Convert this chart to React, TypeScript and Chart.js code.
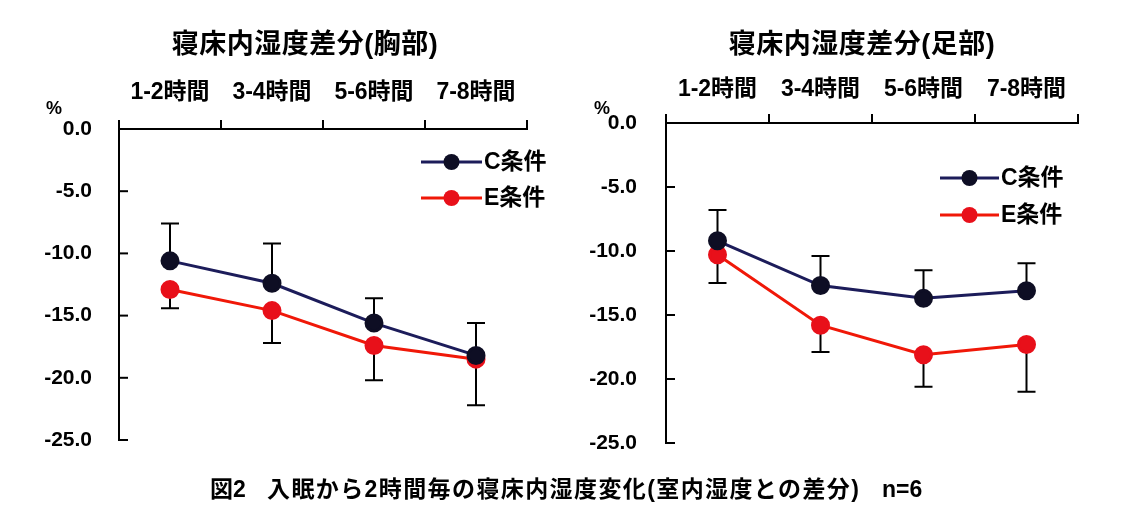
import React, { useEffect, useRef } from "react";
import { Chart, registerables } from "chart.js";
Chart.register(...registerables);

const categories = ["1-2時間", "3-4時間", "5-6時間", "7-8時間"];
const yTickStep = 5;
const yMin = -25;
const yMax = 0;

const chestC = [-10.6, -12.4, -15.6, -18.2];
const chestCErr = [3.0, 3.2, 2.0, 2.6];
const chestE = [-12.9, -14.6, -17.4, -18.5];
const chestEErr = [1.5, 2.6, 2.8, 3.7];

const footC = [-9.2, -12.7, -13.7, -13.1];
const footCErr = [2.4, 2.3, 2.2, 2.15];
const footE = [-10.3, -15.8, -18.1, -17.3];
const footEErr = [2.2, 2.1, 2.5, 3.7];

const seriesNames = ["C条件", "E条件"];
const titles = ["寝床内湿度差分(胸部)", "寝床内湿度差分(足部)"];
const captionHead = "図2";
const captionBody = "入眠から2時間毎の寝床内湿度変化(室内湿度との差分)";
const captionTail = "n=6";

const FONT = '"Liberation Sans", "Noto Sans CJK JP", sans-serif';
const C_LINE = "#1c1c5a";
const C_POINT = "#0e0e24";
const E_LINE = "#f01808";
const E_POINT = "#e8101a";
const H = 505;

type PanelProps = {
  left: number;
  width: number;
  area: { l: number; t: number; r: number; b: number };
  c: number[];
  cErr: number[];
  e: number[];
  eErr: number[];
  legend: { x1: number; x2: number; yC: number; yE: number };
  xPad: number;
  yPad: number;
};

const errorBarPlugin = {
  id: "errorBars",
  beforeDatasetsDraw(chart: any) {
    const ctx = chart.ctx;
    const y = chart.scales.y;
    chart.data.datasets.forEach((ds: any, di: number) => {
      const meta = chart.getDatasetMeta(di);
      ds.data.forEach((v: number, i: number) => {
        const pt = meta.data[i];
        const err = ds.errs[i];
        const end = v + ds.errDir * err;
        const py0 = y.getPixelForValue(v);
        const py1 = y.getPixelForValue(end);
        ctx.save();
        ctx.strokeStyle = "#000";
        ctx.lineWidth = 2;
        ctx.beginPath();
        ctx.moveTo(pt.x, py0);
        ctx.lineTo(pt.x, py1);
        ctx.moveTo(pt.x - 9, py1);
        ctx.lineTo(pt.x + 9, py1);
        ctx.stroke();
        ctx.restore();
      });
    });
  },
};

const innerTickPlugin = {
  id: "innerTicks",
  afterDraw(chart: any) {
    const ctx = chart.ctx;
    const y = chart.scales.y;
    const a = chart.chartArea;
    ctx.save();
    ctx.strokeStyle = "#000";
    ctx.lineWidth = 2;
    y.ticks.forEach((t: any) => {
      const py = y.getPixelForValue(t.value);
      ctx.beginPath();
      ctx.moveTo(a.left, py);
      ctx.lineTo(a.left + 9, py);
      ctx.stroke();
    });
    ctx.restore();
  },
};

function makeLegendPlugin(lg: PanelProps["legend"]) {
  return {
    id: "customLegend",
    afterDraw(chart: any) {
      const ctx = chart.ctx;
      const items = [
        { y: lg.yC, line: C_LINE, point: C_POINT, name: seriesNames[0] },
        { y: lg.yE, line: E_LINE, point: E_POINT, name: seriesNames[1] },
      ];
      ctx.save();
      items.forEach((it) => {
        ctx.strokeStyle = it.line;
        ctx.lineWidth = 3;
        ctx.beginPath();
        ctx.moveTo(lg.x1, it.y);
        ctx.lineTo(lg.x2, it.y);
        ctx.stroke();
        ctx.fillStyle = it.point;
        ctx.beginPath();
        ctx.arc((lg.x1 + lg.x2) / 2, it.y, 8, 0, Math.PI * 2);
        ctx.fill();
        ctx.fillStyle = "#000";
        ctx.font = `bold 23px ${FONT}`;
        ctx.textBaseline = "middle";
        ctx.textAlign = "left";
        ctx.fillText(it.name, lg.x2 + 2, it.y + 1);
      });
      ctx.restore();
    },
  };
}

function Panel(p: PanelProps) {
  const ref = useRef<HTMLCanvasElement | null>(null);
  useEffect(() => {
    if (!ref.current) return;
    const chart = new Chart(ref.current, {
      type: "line",
      data: {
        labels: categories,
        datasets: [
          {
            label: seriesNames[0],
            data: p.c,
            errs: p.cErr,
            errDir: 1,
            borderColor: C_LINE,
            backgroundColor: C_POINT,
            pointBackgroundColor: C_POINT,
            pointBorderColor: C_POINT,
            pointRadius: 8,
            borderWidth: 3,
            tension: 0,
          } as any,
          {
            label: seriesNames[1],
            data: p.e,
            errs: p.eErr,
            errDir: -1,
            borderColor: E_LINE,
            backgroundColor: E_POINT,
            pointBackgroundColor: E_POINT,
            pointBorderColor: E_POINT,
            pointRadius: 8,
            borderWidth: 3,
            tension: 0,
          } as any,
        ],
      },
      options: {
        responsive: false,
        animation: false,
        devicePixelRatio: 1,
        layout: {
          padding: { left: 0, top: 0, right: p.width - p.area.r, bottom: H - p.area.b },
        },
        plugins: { legend: { display: false }, title: { display: false }, tooltip: { enabled: false } },
        scales: {
          x: {
            type: "category",
            position: "top",
            offset: true,
            grid: {
              offset: true,
              drawOnChartArea: false,
              color: "#000",
              lineWidth: 2,
              tickLength: 9,
              tickColor: "#000",
            },
            border: { color: "#000", width: 2 },
            ticks: {
              color: "#000",
              font: { family: FONT, size: 23, weight: "bold" },
              padding: p.xPad,
              maxRotation: 0,
              autoSkip: false,
            },
            afterFit: (s: any) => {
              s.height = p.area.t;
            },
          },
          y: {
            min: yMin,
            max: yMax,
            ticks: {
              stepSize: yTickStep,
              color: "#000",
              font: { family: FONT, size: 21, weight: "bold" },
              padding: p.yPad,
              callback: (v: any) => Number(v).toFixed(1),
            },
            grid: { display: true, drawOnChartArea: false, drawTicks: false },
            border: { color: "#000", width: 2 },
            afterFit: (s: any) => {
              s.width = p.area.l;
            },
          },
        },
      } as any,
      plugins: [errorBarPlugin, innerTickPlugin, makeLegendPlugin(p.legend)],
    });
    return () => chart.destroy();
  }, []);
  return (
    <canvas
      ref={ref}
      width={p.width}
      height={H}
      style={{ position: "absolute", left: p.left, top: 0, width: p.width, height: H }}
    />
  );
}

const textStyle: React.CSSProperties = {
  position: "absolute",
  fontFamily: FONT,
  fontWeight: "bold",
  color: "#000",
  whiteSpace: "pre",
  transform: "translate(-50%, -50%)",
  lineHeight: 1,
};

export default function App() {
  return (
    <div
      style={{
        position: "fixed",
        left: 0,
        top: 0,
        width: 1124,
        height: H,
        background: "#fff",
        overflow: "hidden",
      }}
    >
      <Panel
        left={0}
        width={560}
        area={{ l: 119, t: 129, r: 527, b: 440 }}
        c={chestC}
        cErr={chestCErr}
        e={chestE}
        eErr={chestEErr}
        legend={{ x1: 421, x2: 482, yC: 162, yE: 198 }}
        xPad={14}
        yPad={27}
      />
      <Panel
        left={560}
        width={564}
        area={{ l: 106, t: 123, r: 518, b: 443 }}
        c={footC}
        cErr={footCErr}
        e={footE}
        eErr={footEErr}
        legend={{ x1: 380, x2: 439, yC: 178, yE: 215 }}
        xPad={11}
        yPad={29}
      />
      <div style={{ ...textStyle, left: 305, top: 44, fontSize: 27, letterSpacing: "0.5px" }}>{titles[0]}</div>
      <div style={{ ...textStyle, left: 862, top: 44, fontSize: 27, letterSpacing: "0.5px" }}>{titles[1]}</div>
      <div style={{ ...textStyle, left: 54, top: 108, fontSize: 18 }}>%</div>
      <div style={{ ...textStyle, left: 602, top: 108, fontSize: 18 }}>%</div>
      <div
        style={{
          position: "absolute",
          left: 210,
          top: 478,
          fontFamily: FONT,
          fontWeight: "bold",
          fontSize: 23,
          lineHeight: 1,
          whiteSpace: "pre",
          color: "#000",
          display: "flex",
        }}
      >
        <span style={{ width: 57 }}>{captionHead}</span>
        <span style={{ width: 615, letterSpacing: "1.4px" }}>{captionBody}</span>
        <span>{captionTail}</span>
      </div>
    </div>
  );
}
